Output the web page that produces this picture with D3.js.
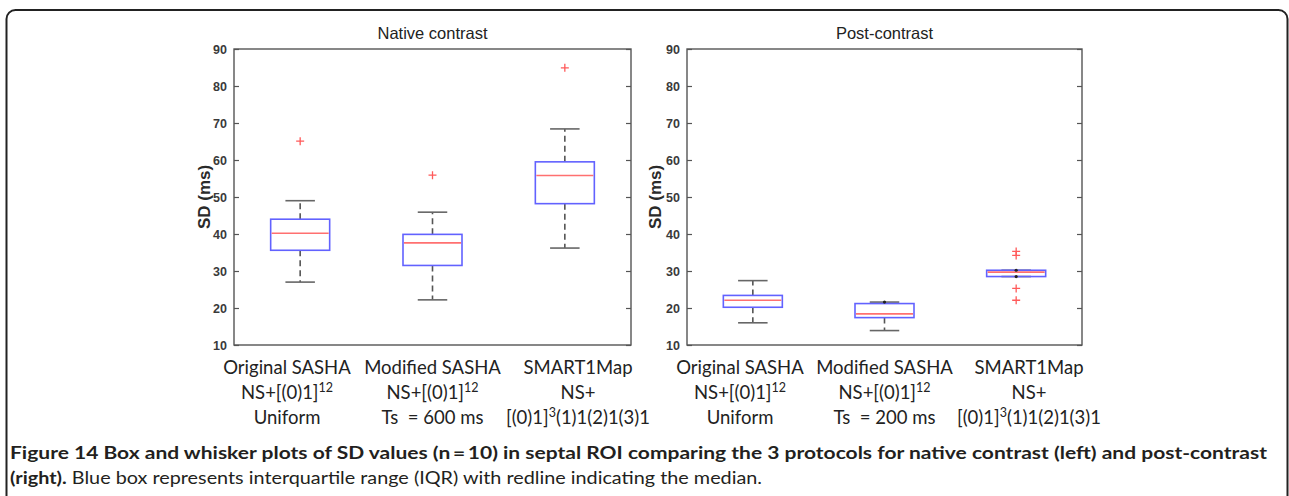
<!DOCTYPE html>
<html>
<head>
<meta charset="utf-8">
<script src="https://cdn.jsdelivr.net/npm/d3@7"></script>
<style>
  html, body { margin: 0; padding: 0; background: #fff; }
  svg { display: block; }
</style>
</head>
<body>
<svg id="fig" width="1289" height="496"></svg>
<script>
// Protocol categories (x axis)
const categories = ["Original SASHA", "Modified SASHA", "SMART1Map"];

// Second and third lines of each category label, split into [text, superscript, rest]
const nativeLine2 = [["NS+[(0)1]", "12", ""], ["NS+[(0)1]", "12", ""], ["NS+", "", ""]];
const nativeLine3 = [["Uniform", "", ""], ["Ts\u00a0 = 600 ms", "", ""], ["[(0)1]", "3", "(1)1(2)1(3)1"]];
const postLine2 = [["NS+[(0)1]", "12", ""], ["NS+[(0)1]", "12", ""], ["NS+", "", ""]];
const postLine3 = [["Uniform", "", ""], ["Ts\u00a0 = 200 ms", "", ""], ["[(0)1]", "3", "(1)1(2)1(3)1"]];

// Native contrast: SD (ms) box statistics
const nativeLow = [27.0, 22.2, 36.2];
const nativeQ1 = [35.6, 31.5, 48.2];
const nativeMedian = [40.2, 37.6, 55.8];
const nativeQ3 = [44.0, 39.9, 59.5];
const nativeHigh = [49.0, 45.9, 68.4];
const nativeOutliers = [[65.1], [55.9], [84.9]];

// Post-contrast: SD (ms) box statistics
const postLow = [16.0, 13.9, 28.5];
const postQ1 = [20.2, 17.4, 28.5];
const postMedian = [22.1, 18.4, 29.7];
const postQ3 = [23.4, 21.2, 30.2];
const postHigh = [27.4, 21.6, 30.2];
const postOutliers = [[], [], [35.3, 34.2, 25.3, 22.1]];

// Y axis ticks
const yTicks = [10, 20, 30, 40, 50, 60, 70, 80, 90];
const yDomain = [10, 90];

const panelTitles = ["Native contrast", "Post-contrast"];
const yLabel = "SD (ms)";

const captionBold1 = "Figure 14 Box and whisker plots of SD values (n\u2009=\u200910) in septal ROI comparing the 3 protocols for native contrast (left) and post-contrast";
const captionBold2 = "(right).";
const captionRest2 = " Blue box represents interquartile range (IQR) with redline indicating the median.";

const svg = d3.select("#fig");

// Rounded frame around the figure
svg.append("rect")
  .attr("x", 6.5).attr("y", 10)
  .attr("width", 1281).attr("height", 560)
  .attr("rx", 9).attr("ry", 9)
  .attr("fill", "#fff")
  .attr("stroke", "#222").attr("stroke-width", 2);

const panels = [
  { left: 234, right: 631, title: panelTitles[0], low: nativeLow, q1: nativeQ1, med: nativeMedian, q3: nativeQ3, high: nativeHigh, out: nativeOutliers, line2: nativeLine2, line3: nativeLine3, ylabelX: 204 },
  { left: 687, right: 1082, title: panelTitles[1], low: postLow, q1: postQ1, med: postMedian, q3: postQ3, high: postHigh, out: postOutliers, line2: postLine2, line3: postLine3, ylabelX: 655 }
];

const plotTop = 49, plotBottom = 345;
const boxW = 59;

const labelFont = "Lato, 'Open Sans', sans-serif";
const axisFont = "'Liberation Sans', Arial, sans-serif";

panels.forEach(p => {
  const g = svg.append("g");
  const y = d3.scaleLinear().domain(yDomain).range([plotBottom, plotTop]);
  const x = d3.scalePoint().domain(categories).range([p.left, p.right]).padding(0.5);
  const xl = d3.scalePoint().domain(categories).range([p.left + 53, p.right - 53]).padding(0);

  // Axes box
  g.append("rect")
    .attr("x", p.left).attr("y", plotTop)
    .attr("width", p.right - p.left).attr("height", plotBottom - plotTop)
    .attr("fill", "none").attr("stroke", "#555").attr("stroke-width", 1.4);

  // Left axis with inward ticks
  const yAxis = d3.axisLeft(y).tickValues(yTicks).tickSize(-5).tickPadding(7).tickFormat(d3.format("d"));
  const ga = g.append("g").attr("transform", `translate(${p.left},0)`).call(yAxis);
  ga.select(".domain").remove();
  ga.selectAll(".tick line").attr("stroke", "#555").attr("stroke-width", 1.2);
  ga.selectAll(".tick text")
    .attr("font-family", axisFont).attr("font-size", 12.5).attr("font-weight", "bold")
    .attr("fill", "#3a3a3a");

  // Right axis inward ticks (no labels)
  const yAxisR = d3.axisRight(y).tickValues(yTicks).tickSize(-5).tickFormat("");
  const gr = g.append("g").attr("transform", `translate(${p.right},0)`).call(yAxisR);
  gr.select(".domain").remove();
  gr.selectAll(".tick line").attr("stroke", "#555").attr("stroke-width", 1.2);

  // Title
  g.append("text")
    .attr("x", (p.left + p.right) / 2).attr("y", 39)
    .attr("text-anchor", "middle")
    .attr("font-family", axisFont).attr("font-size", 16.5)
    .attr("fill", "#222")
    .text(p.title);

  // Y label
  g.append("text")
    .attr("transform", `translate(${p.ylabelX},${(plotTop + plotBottom) / 2}) rotate(-90)`)
    .attr("text-anchor", "middle").attr("dominant-baseline", "central")
    .attr("font-family", axisFont).attr("font-size", 17).attr("font-weight", "bold")
    .attr("fill", "#2a2a2a")
    .text(yLabel);

  categories.forEach((c, i) => {
    const cx = x(c);
    const capW = boxW / 2;
    // Whiskers (dashed)
    [[p.q3[i], p.high[i]], [p.q1[i], p.low[i]]].forEach(([a, b]) => {
      if (Math.abs(a - b) > 0.05) {
        g.append("line")
          .attr("x1", cx).attr("x2", cx)
          .attr("y1", y(a)).attr("y2", y(b))
          .attr("stroke", "#555").attr("stroke-width", 1.6)
          .attr("stroke-dasharray", "6,4");
      }
      g.append("line")
        .attr("x1", cx - capW / 2).attr("x2", cx + capW / 2)
        .attr("y1", y(b)).attr("y2", y(b))
        .attr("stroke", "#666").attr("stroke-width", 1.6);
    });
    // Box
    g.append("rect")
      .attr("x", cx - boxW / 2).attr("y", y(p.q3[i]))
      .attr("width", boxW).attr("height", y(p.q1[i]) - y(p.q3[i]))
      .attr("fill", "none").attr("stroke", "#6262ff").attr("stroke-width", 1.6);
    // Median
    g.append("line")
      .attr("x1", cx - boxW / 2 + 1).attr("x2", cx + boxW / 2 - 1)
      .attr("y1", y(p.med[i])).attr("y2", y(p.med[i]))
      .attr("stroke", "#ff7070").attr("stroke-width", 1.6);
    // Whisker ends that coincide with the box edges
    [p.high[i], p.low[i]].forEach((v, k) => {
      const edge = k === 0 ? p.q3[i] : p.q1[i];
      if (Math.abs(v - edge) < 0.6) {
        g.append("circle").attr("cx", cx).attr("cy", y(v)).attr("r", 1.6).attr("fill", "#222");
      }
    });
    // Outliers
    p.out[i].forEach(v => {
      g.append("path")
        .attr("d", `M${cx - 4},${y(v)}H${cx + 4}M${cx},${y(v) - 4}V${y(v) + 4}`)
        .attr("stroke", "#ff5a5a").attr("stroke-width", 1.3);
    });

    // Category labels (three lines)
    const lx = xl(c);
    const lines = [[c, "", ""], p.line2[i], p.line3[i]];
    lines.forEach((ln, k) => {
      const t = g.append("text")
        .attr("x", lx).attr("y", 374 + k * 25)
        .attr("text-anchor", "middle")
        .attr("font-family", labelFont).attr("font-size", 18.5)
        .attr("fill", "#222");
      t.append("tspan").text(ln[0]);
      if (ln[1]) t.append("tspan").attr("dy", -7).attr("font-size", 12.5).text(ln[1]);
      if (ln[2]) t.append("tspan").attr("dy", 7).text(ln[2]);
    });
  });
});

// Caption
const capFont = "Lato, 'Open Sans', sans-serif";
const c1 = svg.append("text")
  .attr("x", 10).attr("y", 459)
  .attr("font-family", capFont).attr("font-size", 16.5).attr("font-weight", "bold")
  .attr("fill", "#231f20")
  .text(captionBold1);
const w1 = c1.node().getComputedTextLength();
if (Math.abs(w1 - 1257) > 4) c1.attr("textLength", 1257).attr("lengthAdjust", "spacingAndGlyphs");

const c2 = svg.append("text")
  .attr("x", 10).attr("y", 484)
  .attr("font-family", capFont).attr("font-size", 16.5)
  .attr("fill", "#231f20");
c2.append("tspan").attr("font-weight", "bold").text(captionBold2);
c2.append("tspan").text(captionRest2);
const w2 = c2.node().getComputedTextLength();
if (Math.abs(w2 - 752) > 4) c2.attr("textLength", 752).attr("lengthAdjust", "spacingAndGlyphs");
</script>
</body>
</html>
